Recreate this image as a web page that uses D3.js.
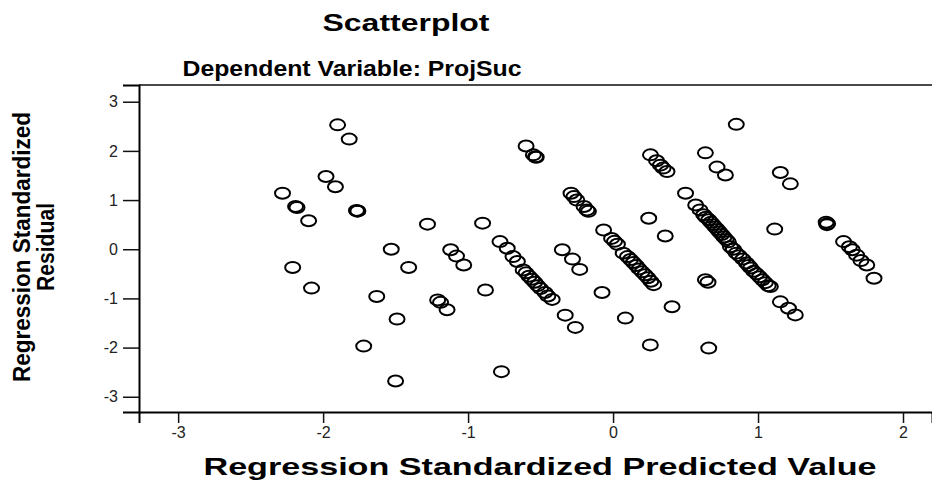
<!DOCTYPE html>
<html lang="en">
<head>
<meta charset="utf-8">
<title>Scatterplot</title>
<script src="https://cdn.jsdelivr.net/npm/d3@7"></script>
<style>
 body { margin: 0; background: #ffffff; }
 svg { display: block; background: #ffffff; }
</style>
</head>
<body>
<div id="chart"></div>
<script>
// Regression standardized predicted value (x) and standardized residual (y)
const predicted = [
  -2.28, -2.19, -2.18, -2.10,
  -1.90, -1.82, -1.98, -1.915,
  -1.77, -1.76, -1.765,
  -1.53, -2.21, -2.08, -1.41, -1.63, -1.49, -1.72, -1.50,
  -1.28, -0.90,
  -1.12, -1.08, -1.03,
  -1.21, -1.19, -1.145,
  -0.88,
  -0.78, -0.73, -0.69, -0.66, -0.62, -0.60, -0.58, -0.56, -0.54, -0.52, -0.50, -0.47, -0.45, -0.42,
  -0.35, -0.28, -0.23,
  -0.33, -0.26, -0.77,
  -0.60, -0.55, -0.535, -0.53,
  -0.29, -0.27, -0.25, -0.20, -0.18, -0.17,
  -0.076, 0.085, 0.257,
  -0.065, -0.01, 0.01, 0.03, 0.07, 0.10, 0.12, 0.14, 0.16, 0.18, 0.20, 0.22, 0.24, 0.26, 0.28,
  0.246, 0.36, 0.407,
  0.258, 0.30, 0.327, 0.345, 0.372,
  0.637, 0.717, 0.775, 0.85,
  0.50, 0.57, 0.60, 0.625, 0.64, 0.66, 0.675, 0.69, 0.705, 0.72, 0.735, 0.75, 0.765, 0.78, 0.795,
  0.81, 0.83, 0.85, 0.87, 0.895, 0.92, 0.935, 0.95, 0.97, 0.99, 1.01, 1.03, 1.05, 1.07, 1.085,
  0.637, 0.655, 0.66,
  1.154, 1.21, 1.257,
  1.154, 1.223, 1.115,
  1.47, 1.48, 1.475,
  1.59, 1.63, 1.65, 1.68, 1.71, 1.75, 1.80
];
const residual = [
  1.14, 0.87, 0.85, 0.58,
  2.53, 2.24, 1.48, 1.27,
  0.79, 0.78, 0.775,
  0.0, -0.37, -0.79, -0.37, -0.96, -1.42, -1.97, -2.68,
  0.51, 0.53,
  -0.01, -0.14, -0.32,
  -1.03, -1.08, -1.23,
  -0.83,
  0.155, 0.02, -0.15, -0.25, -0.42, -0.48, -0.55, -0.61, -0.67, -0.74, -0.80, -0.88, -0.95, -1.02,
  -0.01, -0.20, -0.41,
  -1.34, -1.59, -2.49,
  2.10, 1.92, 1.88, 1.87,
  1.14, 1.07, 1.00, 0.87, 0.80, 0.77,
  -0.88, -1.40, -1.945,
  0.39, 0.22, 0.16, 0.10, -0.08, -0.15, -0.21, -0.27, -0.33, -0.40, -0.46, -0.52, -0.58, -0.65, -0.72,
  0.63, 0.27, -1.17,
  1.92, 1.80, 1.71, 1.65, 1.58,
  1.96, 1.67, 1.51, 2.54,
  1.14, 0.90, 0.80, 0.70, 0.65, 0.60, 0.55, 0.50, 0.45, 0.40, 0.35, 0.30, 0.25, 0.20, 0.15,
  0.05, 0.0, -0.08, -0.13, -0.20, -0.28, -0.33, -0.38, -0.45, -0.50, -0.56, -0.62, -0.68, -0.74, -0.76,
  -0.62, -0.67, -2.01,
  -1.07, -1.20, -1.335,
  1.56, 1.33, 0.41,
  0.55, 0.52, 0.50,
  0.155, 0.05, -0.01, -0.12, -0.23, -0.32, -0.59
];
const xTicks = [-3, -2, -1, 0, 1, 2];
const yTicks = [-3, -2, -1, 0, 1, 2, 3];

const W = 932, H = 481;
const plot = {left: 139, right: 932, top: 85, bottom: 412};

const x = d3.scaleLinear().domain([-3.27, 2.2]).range([plot.left, plot.right]);
const y = d3.scaleLinear().domain([-3.31, 3.34]).range([plot.bottom, plot.top]);

const svg = d3.select("#chart").append("svg")
  .attr("width", W)
  .attr("height", H);

// titles
svg.append("text")
  .attr("x", 406).attr("y", 31)
  .attr("text-anchor", "middle")
  .attr("font-family", "Liberation Sans, Arial, sans-serif")
  .attr("font-weight", "bold")
  .attr("font-size", 23)
  .attr("textLength", 167).attr("lengthAdjust", "spacingAndGlyphs")
  .text("Scatterplot");

svg.append("text")
  .attr("x", 352).attr("y", 76)
  .attr("text-anchor", "middle")
  .attr("font-family", "Liberation Sans, Arial, sans-serif")
  .attr("font-weight", "bold")
  .attr("font-size", 22)
  .attr("textLength", 339).attr("lengthAdjust", "spacingAndGlyphs")
  .text("Dependent Variable: ProjSuc");

// frame top
svg.append("line")
  .attr("x1", plot.left).attr("x2", plot.right)
  .attr("y1", plot.top).attr("y2", plot.top)
  .attr("stroke", "#4a4a4a").attr("stroke-width", 2);

// axes
const xAxis = svg.append("g")
  .attr("transform", "translate(0," + plot.bottom + ")")
  .call(d3.axisBottom(x).tickValues(xTicks).tickSize(11).tickPadding(4).tickFormat(d3.format("d")));

const yAxis = svg.append("g")
  .attr("transform", "translate(" + plot.left + ",0)")
  .call(d3.axisLeft(y).tickValues(yTicks).tickSize(16).tickPadding(5).tickFormat(d3.format("d")));

[xAxis, yAxis].forEach(g => {
  g.select(".domain").attr("stroke", "#000").attr("stroke-width", 2);
  g.selectAll(".tick line").attr("stroke", "#111").attr("stroke-width", 1.5);
  g.selectAll(".tick text")
    .attr("fill", "#222")
    .attr("font-family", "Liberation Sans, Arial, sans-serif")
    .attr("font-size", 16);
});
// plain hyphen minus like the original
xAxis.selectAll(".tick text").text(d => String(d));
yAxis.selectAll(".tick text").text(d => String(d));

// axis titles
svg.append("text")
  .attr("x", 540).attr("y", 475)
  .attr("text-anchor", "middle")
  .attr("font-family", "Liberation Sans, Arial, sans-serif")
  .attr("font-weight", "bold")
  .attr("font-size", 23)
  .attr("textLength", 673).attr("lengthAdjust", "spacingAndGlyphs")
  .text("Regression Standardized Predicted Value");

const yTitle = svg.append("g")
  .attr("transform", "translate(0,247) rotate(-90)");
yTitle.append("text")
  .attr("x", 0).attr("y", 30)
  .attr("text-anchor", "middle")
  .attr("font-family", "Liberation Sans Narrow, Liberation Sans, Arial, sans-serif")
  .attr("font-weight", "bold")
  .attr("font-size", 24)
  .attr("textLength", 270).attr("lengthAdjust", "spacingAndGlyphs")
  .text("Regression Standardized");
yTitle.append("text")
  .attr("x", 0).attr("y", 54)
  .attr("text-anchor", "middle")
  .attr("font-family", "Liberation Sans Narrow, Liberation Sans, Arial, sans-serif")
  .attr("font-weight", "bold")
  .attr("font-size", 24)
  .attr("textLength", 88).attr("lengthAdjust", "spacingAndGlyphs")
  .text("Residual");

// points
const data = predicted.map((p, i) => ({p: p, r: residual[i]}));
svg.append("g")
  .selectAll("ellipse")
  .data(data)
  .join("ellipse")
  .attr("cx", d => x(d.p))
  .attr("cy", d => y(d.r))
  .attr("rx", 7.5)
  .attr("ry", 5.5)
  .attr("fill", "none")
  .attr("stroke", "#000")
  .attr("stroke-width", 2);
</script>
</body>
</html>
